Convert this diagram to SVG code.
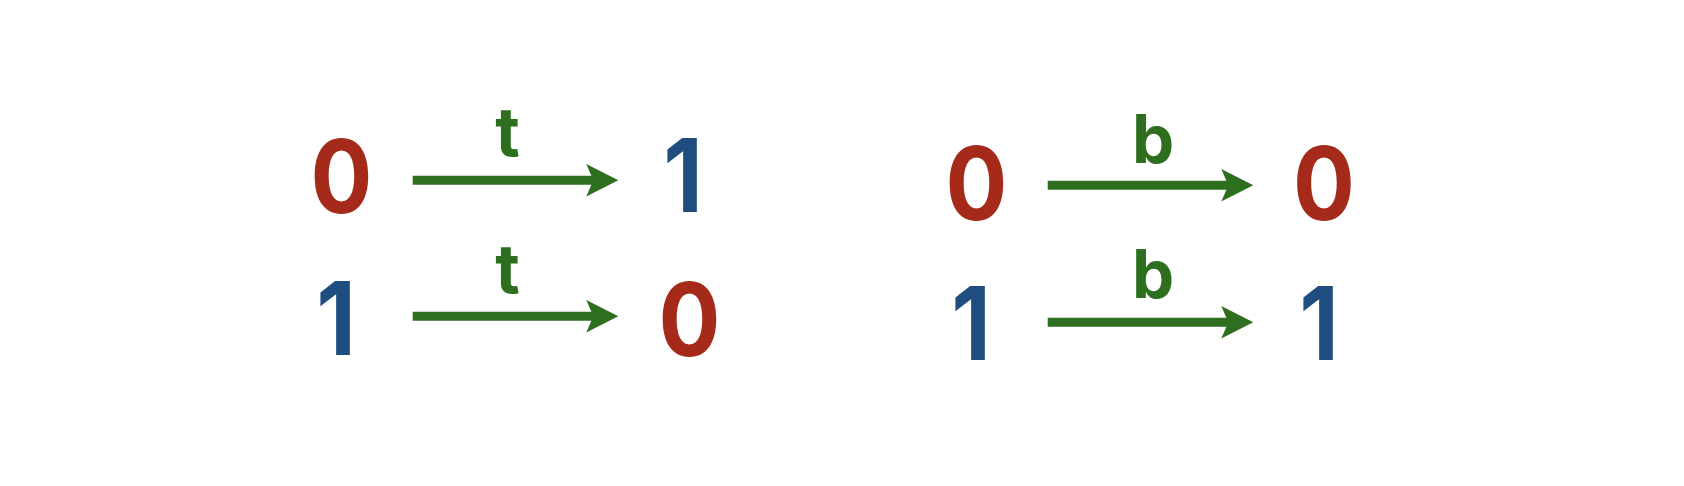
<svg xmlns="http://www.w3.org/2000/svg" xmlns:xlink="http://www.w3.org/1999/xlink" width="1684" height="486" viewBox="0 0 1684 486">
<style>
.d{font-family:Inter,"Noto Sans",sans-serif;font-weight:700;font-size:102px;text-anchor:middle}
.r{fill:#A52A19}
.bl{fill:#1F4D7F}
.lb{font-family:Inter,"Noto Sans",sans-serif;font-weight:700;font-size:67px;text-anchor:middle;fill:#2E6E1F}
.ln{stroke:#2E6E1F;stroke-width:9;fill:none}
.ah{fill:#2E6E1F}
</style>
<defs>
<path id="head" d="M0,0 L-32,-16.3 L-25,0 L-32,16.3 Z"/>
</defs>
<rect width="1684" height="486" fill="#ffffff"/>
<g id="n-left-0-src" transform="translate(341.5,213) scale(0.9,1)"><text class="d r" x="0" y="0">0</text></g>
<g id="n-left-1-dst" transform="translate(683,212) scale(0.9,1)"><text class="d bl" x="0" y="0">1</text></g>
<g id="n-left-1-src" transform="translate(336,355) scale(0.9,1)"><text class="d bl" x="0" y="0">1</text></g>
<g id="n-left-0-dst" transform="translate(689.5,356) scale(0.9,1)"><text class="d r" x="0" y="0">0</text></g>
<g id="n-right-0-src" transform="translate(976.5,219.5) scale(0.9,1)"><text class="d r" x="0" y="0">0</text></g>
<g id="n-right-0-dst" transform="translate(1324,219.5) scale(0.9,1)"><text class="d r" x="0" y="0">0</text></g>
<g id="n-right-1-src" transform="translate(971,360) scale(0.9,1)"><text class="d bl" x="0" y="0">1</text></g>
<g id="n-right-1-dst" transform="translate(1319,360) scale(0.9,1)"><text class="d bl" x="0" y="0">1</text></g>
<g id="connectors">
<line class="ln" x1="412.7" y1="180.3" x2="598" y2="180.3"/>
<use xlink:href="#head" class="ah" x="618.3" y="180.3"/>
<text class="lb" x="507.5" y="156">t</text>
<line class="ln" x1="412.7" y1="316.3" x2="598" y2="316.3"/>
<use xlink:href="#head" class="ah" x="618.3" y="316.3"/>
<text class="lb" x="507.5" y="293">t</text>
<line class="ln" x1="1047.7" y1="185.3" x2="1233" y2="185.3"/>
<use xlink:href="#head" class="ah" x="1253.3" y="185.3"/>
<text class="lb" x="1153" y="162.5">b</text>
<line class="ln" x1="1047.7" y1="322.3" x2="1233" y2="322.3"/>
<use xlink:href="#head" class="ah" x="1253.3" y="322.3"/>
<text class="lb" x="1153" y="298">b</text>
</g>
</svg>
